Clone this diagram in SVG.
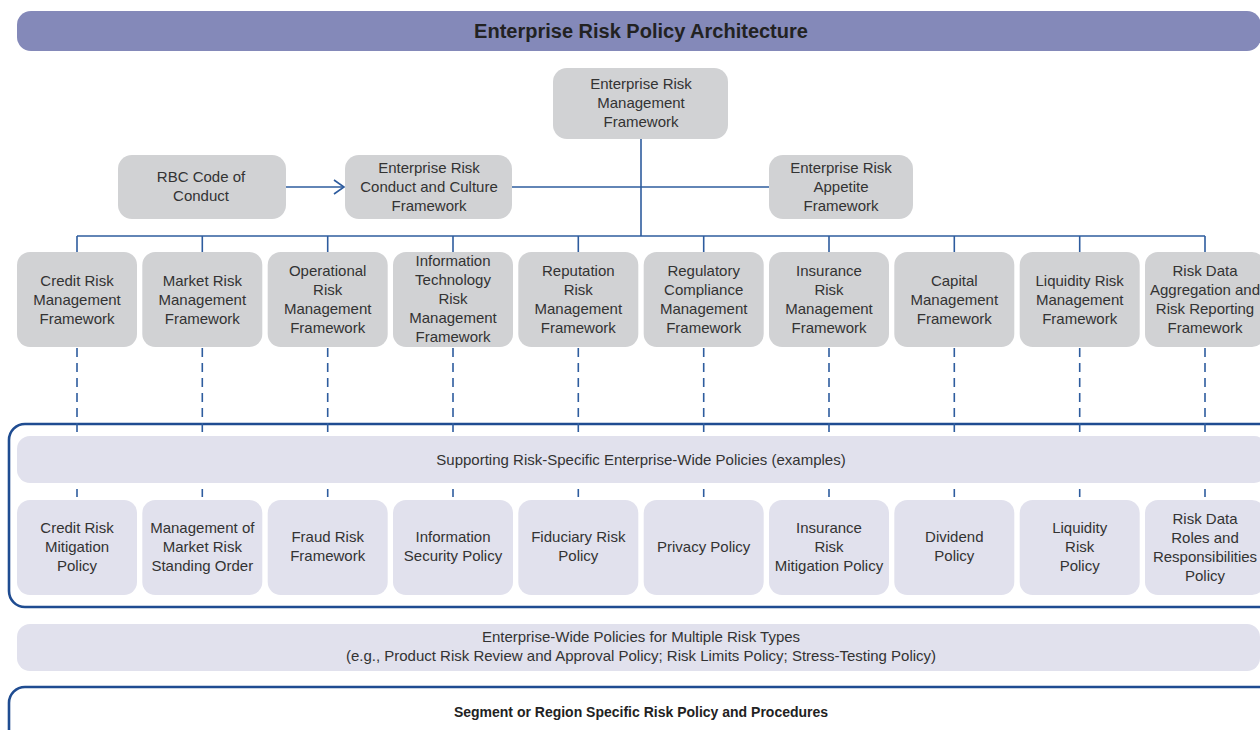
<svg xmlns="http://www.w3.org/2000/svg" width="1260" height="730" viewBox="0 0 1260 730">
<style>
text{font-family:"Liberation Sans",Arial,sans-serif;font-size:15px;fill:#333;text-anchor:middle}
.g{fill:#d1d2d4}
.l{fill:#e1e1ed}
.ln{stroke:#2e5c9e;stroke-width:1.6;fill:none}
.dash{stroke:#2e5c9e;stroke-width:1.6;stroke-dasharray:9 6;fill:none}
.out{stroke:#1f4c91;stroke-width:2.6;fill:none}
.title{font-size:20px;font-weight:bold;fill:#222}
.b{font-size:14px;font-weight:bold;fill:#222}
</style>
<defs>
<marker id="arr" markerWidth="14" markerHeight="16" refX="12" refY="8" orient="auto" markerUnits="userSpaceOnUse">
<path d="M2,1 L12,8 L2,15" fill="none" stroke="#2e5c9e" stroke-width="1.6"/>
</marker>
</defs>
<rect width="1260" height="730" fill="#fff"/>

<g id="banner">
<rect x="17" y="11" width="1244" height="40" rx="14" fill="#8489b9"/>
<text class="title" x="641" y="38">Enterprise Risk Policy Architecture</text>
</g>

<g id="outlines">
<rect class="out" x="9" y="424" width="1270" height="183" rx="16"/>
<rect class="out" x="9" y="687" width="1270" height="80" rx="16"/>
</g>

<g id="connectors">
<line class="ln" x1="641" y1="139" x2="641" y2="236"/>
<line class="ln" x1="512" y1="187" x2="769" y2="187"/>
<line class="ln" x1="286" y1="187" x2="344" y2="187" marker-end="url(#arr)"/>
<line class="ln" x1="77" y1="236" x2="1205" y2="236"/>
<g class="ln">
<line x1="77" y1="236" x2="77" y2="252"/><line x1="202.3" y1="236" x2="202.3" y2="252"/><line x1="327.7" y1="236" x2="327.7" y2="252"/><line x1="453" y1="236" x2="453" y2="252"/><line x1="578.3" y1="236" x2="578.3" y2="252"/><line x1="703.7" y1="236" x2="703.7" y2="252"/><line x1="829" y1="236" x2="829" y2="252"/><line x1="954.3" y1="236" x2="954.3" y2="252"/><line x1="1079.7" y1="236" x2="1079.7" y2="252"/><line x1="1205" y1="236" x2="1205" y2="252"/>
</g>
<g class="dash">
<line x1="77" y1="348" x2="77" y2="436"/><line x1="202.3" y1="348" x2="202.3" y2="436"/><line x1="327.7" y1="348" x2="327.7" y2="436"/><line x1="453" y1="348" x2="453" y2="436"/><line x1="578.3" y1="348" x2="578.3" y2="436"/><line x1="703.7" y1="348" x2="703.7" y2="436"/><line x1="829" y1="348" x2="829" y2="436"/><line x1="954.3" y1="348" x2="954.3" y2="436"/><line x1="1079.7" y1="348" x2="1079.7" y2="436"/><line x1="1205" y1="348" x2="1205" y2="436"/>
</g>
<g class="ln">
<line x1="77" y1="489" x2="77" y2="497"/><line x1="202.3" y1="489" x2="202.3" y2="497"/><line x1="327.7" y1="489" x2="327.7" y2="497"/><line x1="453" y1="489" x2="453" y2="497"/><line x1="578.3" y1="489" x2="578.3" y2="497"/><line x1="703.7" y1="489" x2="703.7" y2="497"/><line x1="829" y1="489" x2="829" y2="497"/><line x1="954.3" y1="489" x2="954.3" y2="497"/><line x1="1079.7" y1="489" x2="1079.7" y2="497"/><line x1="1205" y1="489" x2="1205" y2="497"/>
</g>
</g>

<g id="erm">
<rect class="g" x="553" y="68" width="175" height="71" rx="14"/>
<text x="641" y="89">Enterprise Risk</text><text x="641" y="108">Management</text><text x="641" y="127">Framework</text>
</g>
<g id="rbc">
<rect class="g" x="118" y="155" width="168" height="64" rx="14"/>
<text x="201" y="182">RBC Code of</text><text x="201" y="201">Conduct</text>
</g>
<g id="ercc">
<rect class="g" x="345" y="155" width="167" height="64" rx="14"/>
<text x="429" y="173">Enterprise Risk</text><text x="429" y="192">Conduct and Culture</text><text x="429" y="211">Framework</text>
</g>
<g id="appetite">
<rect class="g" x="769" y="155" width="144" height="64" rx="14"/>
<text x="841" y="173">Enterprise Risk</text><text x="841" y="192">Appetite</text><text x="841" y="211">Framework</text>
</g>

<g id="fw-credit"><rect class="g" x="17" y="252" width="120" height="95" rx="13"/>
<text x="77" y="286">Credit Risk</text><text x="77" y="305">Management</text><text x="77" y="324">Framework</text></g>
<g id="fw-market"><rect class="g" x="142.3" y="252" width="120" height="95" rx="13"/>
<text x="202.3" y="286">Market Risk</text><text x="202.3" y="305">Management</text><text x="202.3" y="324">Framework</text></g>
<g id="fw-operational"><rect class="g" x="267.7" y="252" width="120" height="95" rx="13"/>
<text x="327.7" y="276">Operational</text><text x="327.7" y="295">Risk</text><text x="327.7" y="314">Management</text><text x="327.7" y="333">Framework</text></g>
<g id="fw-it"><rect class="g" x="393" y="252" width="120" height="95" rx="13"/>
<text x="453" y="266">Information</text><text x="453" y="285">Technology</text><text x="453" y="304">Risk</text><text x="453" y="323">Management</text><text x="453" y="342">Framework</text></g>
<g id="fw-reputation"><rect class="g" x="518.3" y="252" width="120" height="95" rx="13"/>
<text x="578.3" y="276">Reputation</text><text x="578.3" y="295">Risk</text><text x="578.3" y="314">Management</text><text x="578.3" y="333">Framework</text></g>
<g id="fw-regulatory"><rect class="g" x="643.7" y="252" width="120" height="95" rx="13"/>
<text x="703.7" y="276">Regulatory</text><text x="703.7" y="295">Compliance</text><text x="703.7" y="314">Management</text><text x="703.7" y="333">Framework</text></g>
<g id="fw-insurance"><rect class="g" x="769" y="252" width="120" height="95" rx="13"/>
<text x="829" y="276">Insurance</text><text x="829" y="295">Risk</text><text x="829" y="314">Management</text><text x="829" y="333">Framework</text></g>
<g id="fw-capital"><rect class="g" x="894.3" y="252" width="120" height="95" rx="13"/>
<text x="954.3" y="286">Capital</text><text x="954.3" y="305">Management</text><text x="954.3" y="324">Framework</text></g>
<g id="fw-liquidity"><rect class="g" x="1019.7" y="252" width="120" height="95" rx="13"/>
<text x="1079.7" y="286">Liquidity Risk</text><text x="1079.7" y="305">Management</text><text x="1079.7" y="324">Framework</text></g>
<g id="fw-riskdata"><rect class="g" x="1145" y="252" width="120" height="95" rx="13"/>
<text x="1205" y="276">Risk Data</text><text x="1205" y="295">Aggregation and</text><text x="1205" y="314">Risk Reporting</text><text x="1205" y="333">Framework</text></g>

<g id="supporting">
<rect class="l" x="17" y="436" width="1250" height="47" rx="13"/>
<text x="641" y="465">Supporting Risk-Specific Enterprise-Wide Policies (examples)</text>
</g>

<g id="p-credit"><rect class="l" x="17" y="500" width="120" height="95" rx="13"/>
<text x="77" y="533">Credit Risk</text><text x="77" y="552">Mitigation</text><text x="77" y="571">Policy</text></g>
<g id="p-market"><rect class="l" x="142.3" y="500" width="120" height="95" rx="13"/>
<text x="202.3" y="533">Management of</text><text x="202.3" y="552">Market Risk</text><text x="202.3" y="571">Standing Order</text></g>
<g id="p-fraud"><rect class="l" x="267.7" y="500" width="120" height="95" rx="13"/>
<text x="327.7" y="542">Fraud Risk</text><text x="327.7" y="561">Framework</text></g>
<g id="p-infosec"><rect class="l" x="393" y="500" width="120" height="95" rx="13"/>
<text x="453" y="542">Information</text><text x="453" y="561">Security Policy</text></g>
<g id="p-fiduciary"><rect class="l" x="518.3" y="500" width="120" height="95" rx="13"/>
<text x="578.3" y="542">Fiduciary Risk</text><text x="578.3" y="561">Policy</text></g>
<g id="p-privacy"><rect class="l" x="643.7" y="500" width="120" height="95" rx="13"/>
<text x="703.7" y="552">Privacy Policy</text></g>
<g id="p-insurance"><rect class="l" x="769" y="500" width="120" height="95" rx="13"/>
<text x="829" y="533">Insurance</text><text x="829" y="552">Risk</text><text x="829" y="571">Mitigation Policy</text></g>
<g id="p-dividend"><rect class="l" x="894.3" y="500" width="120" height="95" rx="13"/>
<text x="954.3" y="542">Dividend</text><text x="954.3" y="561">Policy</text></g>
<g id="p-liquidity"><rect class="l" x="1019.7" y="500" width="120" height="95" rx="13"/>
<text x="1079.7" y="533">Liquidity</text><text x="1079.7" y="552">Risk</text><text x="1079.7" y="571">Policy</text></g>
<g id="p-riskdata"><rect class="l" x="1145" y="500" width="120" height="95" rx="13"/>
<text x="1205" y="524">Risk Data</text><text x="1205" y="543">Roles and</text><text x="1205" y="562">Responsibilities</text><text x="1205" y="581">Policy</text></g>

<g id="enterprise-wide">
<rect class="l" x="17" y="624" width="1243" height="47" rx="13"/>
<text x="641" y="642">Enterprise-Wide Policies for Multiple Risk Types</text>
<text x="641" y="661">(e.g., Product Risk Review and Approval Policy; Risk Limits Policy; Stress-Testing Policy)</text>
</g>

<g id="segment">
<text class="b" x="641" y="717">Segment or Region Specific Risk Policy and Procedures</text>
</g>
</svg>
